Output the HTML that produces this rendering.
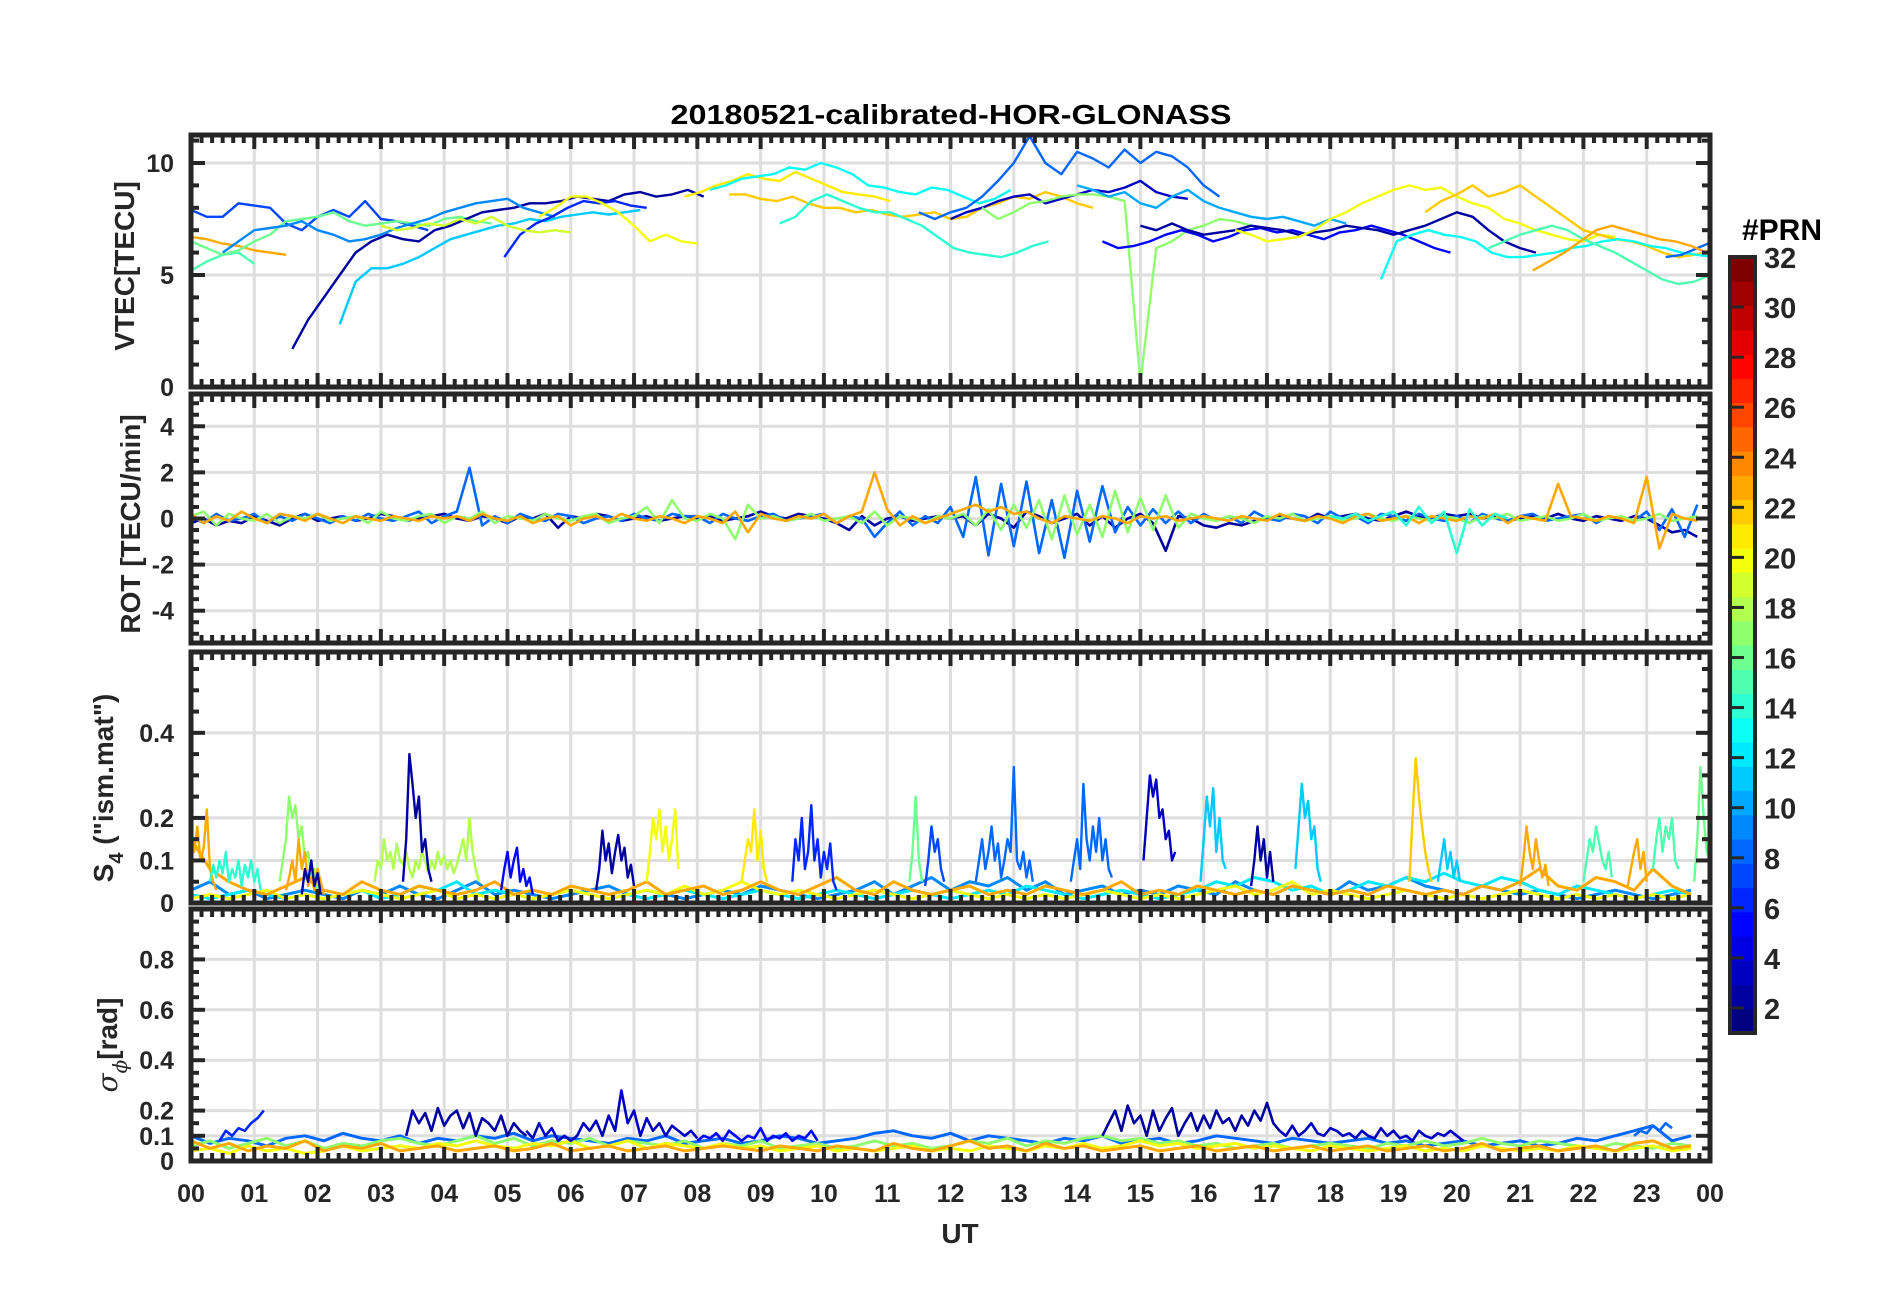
<!DOCTYPE html>
<html><head><meta charset="utf-8"><title>20180521-calibrated-HOR-GLONASS</title>
<style>html,body{margin:0;padding:0;background:#fff}svg{display:block}text{font-family:"Liberation Sans",Arial,sans-serif;font-weight:bold;fill:#262626}</style>
</head><body>
<svg id="fig" width="1902" height="1292" viewBox="0 0 1902 1292" xmlns="http://www.w3.org/2000/svg">
<text x="951" y="124" text-anchor="middle" font-size="28" textLength="561" lengthAdjust="spacingAndGlyphs" style="fill:#000">20180521-calibrated-HOR-GLONASS</text>
<text transform="translate(134,266) rotate(-90)" text-anchor="middle" font-size="28">VTEC[TECU]</text>
<text transform="translate(140,524) rotate(-90)" text-anchor="middle" font-size="28">ROT [TECU/min]</text>
<text transform="translate(113,788) rotate(-90)" text-anchor="middle" font-size="28">S<tspan font-size="20" dy="10">4</tspan><tspan dy="-10"> ("ism.mat")</tspan></text>
<text transform="translate(117,1045) rotate(-90)" text-anchor="middle" font-size="28"><tspan font-family="DejaVu Serif,serif" font-style="italic" font-weight="normal">σ</tspan><tspan font-size="20" dy="10" font-family="DejaVu Serif,serif" font-style="italic" font-weight="normal">ϕ</tspan><tspan dy="-10">[rad]</tspan></text>
<text x="960" y="1243" text-anchor="middle" font-size="28">UT</text>
<text x="1782" y="240" text-anchor="middle" font-size="30" style="fill:#000">#PRN</text>
<g id="grid"></g><g id="data"></g><g id="axes"></g><g id="cbar"></g>
</svg>
<script>
// ---------- data ----------
const hourLabels=["00","01","02","03","04","05","06","07","08","09","10","11","12","13","14","15","16","17","18","19","20","21","22","23","00"];
const cbarLabels=[2,4,6,8,10,12,14,16,18,20,22,24,26,28,30,32];
const vtecTicks=[0,5,10];
const rotTicks=[-4,-2,0,2,4];
const s4Ticks=[0,0.1,0.2,0.4];
const sigTicks=[0,0.1,0.2,0.4,0.6,0.8];
// VTEC: prn, start hour, values (step 0.25 h)
const vtecPrn=[7,23,15,16,2,11,9,6,19,20,21,13,22,14,8,3,17,5,10,2,20,22,13,15,8,23];
const vtecStart=[0,0,0,0,1.6,2.35,0.5,4.95,3.0,5.5,7.8,8.2,8.5,9.3,11.5,12.0,12.5,14.4,14.0,15.0,16.5,19.5,18.8,20.5,23.3,21.2];
const vtecVals=[
[7.9,7.6,7.6,8.2,8.1,8.0,7.3,7.0,7.6,7.9,7.6,8.3,7.5,7.4,7.2,7.0],
[6.7,6.6,6.4,6.3,6.1,6.0,5.9],
[5.2,5.6,5.9,6.0,5.5],
[6.5,6.2,5.9,6.1,6.5,6.8,7.4,7.5,7.6,7.8,7.4,7.2,7.3,7.4,7.3,7.2,7.5,7.6,7.4,7.3],
[1.7,3.0,4.0,5.0,6.0,6.5,6.8,6.6,6.5,7.0,7.2,7.5,7.8,7.9,8.0,8.2,8.2,8.3,8.5,8.4,8.3,8.6,8.7,8.5,8.6,8.8,8.5],
[2.8,4.7,5.3,5.3,5.5,5.8,6.2,6.6,6.8,7.0,7.2,7.3,7.5,7.4,7.6,7.7,7.8,7.7,7.8,7.9],
[6.0,6.5,7.0,7.1,7.2,7.4,7.0,6.8,6.5,6.6,6.8,7.1,7.3,7.5,7.8,8.0,8.2,8.3,8.4,8.0,7.8,7.6],
[5.8,6.8,7.3,7.6,8.0,8.3,8.2,8.3,8.1,8.0],
[7.2,7.0,7.1,7.3,7.2,7.5,7.3,7.6,7.2,7.0,6.9,7.0,6.9],
[7.6,8.0,8.5,8.5,8.2,7.8,7.2,6.5,6.8,6.5,6.4],
[8.5,8.7,9.0,9.2,9.5,9.3,9.2,9.6,9.3,9.0,8.7,8.6,8.5,8.3],
[8.8,9.0,9.3,9.4,9.5,9.8,9.7,10.0,9.8,9.5,9.0,8.9,8.7,8.6,8.9,8.8,8.5,8.2,8.4,8.8],
[8.6,8.6,8.4,8.3,8.5,8.2,8.0,8.0,7.8,7.9,7.7,7.6,7.7,7.8,7.5,7.6,8.0,8.2,8.5,8.4,8.7,8.5,8.2,8.0],
[7.3,7.6,8.3,8.6,8.3,8.0,7.8,7.8,7.5,7.2,6.7,6.2,6.0,5.9,5.8,6.0,6.3,6.5],
[7.8,7.5,7.8,8.0,8.5,9.2,10.0,11.2,10.0,9.5,10.5,10.2,9.8,10.6,10.0,10.5,10.3,9.8,9.0,8.5],
[7.5,7.8,8.0,8.3,8.5,8.6,8.2,8.4,8.6,8.8,8.7,8.9,9.2,8.7,8.5,8.4],
[8.0,7.5,7.8,8.2,8.3,8.5,8.6,8.6,8.5,8.3,0.2,6.2,6.5,7.0,7.2,7.5,7.4,7.2],
[6.5,6.2,6.3,6.5,6.8,7.0,6.8,6.5,6.7,7.0,7.1,6.9,7.0,6.8,6.6,6.9,7.0,7.2,7.0,6.8,6.5,6.2,6.0],
[9.0,8.8,8.5,8.7,8.2,8.0,8.5,8.8,8.3,8.0,7.8,7.6,7.5,7.6,7.4,7.2,7.5,7.3],
[7.2,7.0,7.3,7.0,6.8,6.9,7.0,7.2,7.1,7.0,6.8,6.9,7.0,7.2,7.1,7.0,6.8,7.0,7.2,7.5,7.8,7.6,7.0,6.5,6.2,6.0],
[7.0,6.8,6.5,6.6,6.7,7.0,7.5,7.8,8.2,8.5,8.8,9.0,8.8,8.9,8.5,8.2,8.0,7.5,7.3,7.0,6.8,6.6,6.5,6.8,6.7],
[7.8,8.3,8.6,9.0,8.5,8.7,9.0,8.5,8.0,7.5,7.0,6.8,6.6,6.5,6.3,6.0,5.8,5.9,6.1],
[4.8,6.5,6.8,7.0,6.8,6.7,6.5,6.0,5.8,5.8,5.9,6.0,6.2,6.3,6.5,6.6,6.5,6.3,6.2,6.0,5.9,5.8],
[6.2,6.5,6.8,7.0,7.2,7.0,6.6,6.3,6.0,5.6,5.2,4.8,4.6,4.7,5.0,5.3,5.6,5.8],
[5.8,5.9,6.2,6.5,6.0,6.4,6.6],
[5.2,5.6,6.0,6.5,7.0,7.2,7.0,6.8,6.6,6.5,6.3,6.0,5.8]
];
// ROT: prn, start, values (step 0.2 h)
const rotPrn=[2,8,17,23,14];
const rotStart=[0,0,0,0,18];
const rotVals=[
[-0.2,0.0,-0.3,-0.1,-0.2,0.1,-0.1,-0.3,0.0,0.2,-0.1,0.0,0.1,-0.1,0.0,0.2,0.1,-0.1,0.0,0.1,0.2,0.0,-0.1,0.1,0.0,-0.2,0.1,0.0,0.2,-0.4,0.1,0.0,0.2,0.1,-0.1,0.0,0.1,-0.1,0.0,0.1,0.0,0.1,-0.1,0.0,0.1,0.3,0.1,0.0,0.2,0.1,0.0,-0.2,-0.5,0.1,-0.3,0.0,0.1,-0.1,0.0,0.1,0.0,0.1,-0.3,0.2,0.0,-0.4,0.3,0.1,-0.2,0.0,0.2,-0.3,0.1,-0.4,0.0,0.2,-0.2,-1.4,0.1,0.0,-0.3,-0.4,-0.2,-0.3,-0.1,0.0,0.1,0.0,-0.1,0.2,0.0,0.1,0.2,0.0,-0.1,0.1,0.3,0.1,0.0,0.2,0.1,0.2,0.0,0.1,-0.1,0.0,0.1,0.0,0.2,0.0,-0.1,0.1,0.0,-0.1,0.1,0.0,-0.3,-0.6,-0.5,-0.8],
[0.1,-0.2,0.2,-0.1,0.0,0.2,-0.2,0.1,-0.1,0.2,0.0,-0.2,0.1,-0.1,0.2,0.0,-0.1,0.1,0.3,-0.2,0.1,0.3,2.2,-0.3,0.1,-0.2,0.2,0.0,-0.1,0.2,0.1,-0.2,0.0,0.1,-0.1,0.2,0.0,-0.1,0.2,0.1,0.1,-0.2,0.2,0.0,-0.1,0.1,0.2,-0.1,0.0,0.1,0.2,-0.2,0.1,0.0,-0.8,-0.2,0.3,-0.3,0.1,-0.2,0.5,-0.8,1.8,-1.6,1.5,-1.2,1.6,-1.5,0.8,-1.7,1.2,-1.0,1.4,-0.6,0.5,-0.3,0.4,-0.2,0.3,-0.2,0.2,-0.1,0.1,-0.2,0.3,0.0,-0.1,0.2,0.1,-0.2,0.3,0.0,0.1,-0.2,0.2,0.1,-0.1,0.2,0.0,-0.1,0.1,-0.2,0.2,0.0,-0.1,0.1,0.2,-0.1,0.0,0.1,0.2,-0.2,0.1,0.0,-0.1,0.3,-0.5,0.4,-0.8,0.6],
[0.1,0.3,-0.3,0.2,0.0,-0.1,0.2,-0.2,0.1,0.0,0.2,-0.1,0.0,0.1,-0.2,0.3,0.0,-0.1,0.1,0.2,-0.2,0.1,0.0,0.3,-0.2,0.1,0.0,-0.1,0.2,0.0,-0.1,0.1,0.2,-0.2,0.0,0.1,0.5,-0.2,0.8,0.0,-0.1,0.2,0.0,-0.9,0.6,0.0,0.1,-0.1,0.0,0.2,-0.1,0.0,0.1,-0.2,0.3,-0.3,0.1,0.0,-0.2,0.1,0.0,0.2,-0.3,0.4,-0.5,0.6,-0.4,0.8,-0.9,1.0,-0.7,0.6,-0.8,1.2,-0.6,0.9,-0.5,1.0,-0.4,0.2,0.0,-0.1,0.1,0.0,-0.2,0.1,0.0,0.2,-0.1,0.0,0.1,-0.1,0.0,0.2,0.0,-0.1,0.1,0.0,-0.1,0.1,0.0,-0.2,0.1,0.0,0.2,-0.1,0.0,0.1,-0.1,0.0,0.2,-0.1,0.0,0.1,-0.1,0.0,0.2,-0.1,0.0,0.1],
[0.2,-0.2,0.1,-0.1,0.3,0.0,-0.2,0.2,0.1,-0.1,0.2,0.0,-0.2,0.1,0.0,-0.1,0.1,0.0,-0.1,0.1,0.0,0.1,-0.1,0.2,0.0,-0.1,0.1,-0.2,0.0,0.1,-0.3,0.0,0.1,-0.1,0.2,0.0,-0.1,0.1,0.0,-0.2,0.1,0.0,-0.2,0.3,-0.6,0.2,0.0,-0.1,0.1,0.0,0.2,-0.2,0.1,0.3,2.0,0.4,-0.3,0.1,-0.2,0.0,0.2,0.4,0.6,0.3,0.5,0.2,0.3,0.0,-0.2,0.1,0.0,-0.1,0.1,0.0,-0.2,0.1,0.0,0.1,-0.1,0.0,0.1,0.0,-0.1,0.1,0.0,-0.1,0.2,0.0,-0.1,0.1,0.0,-0.2,0.1,0.2,-0.1,0.0,0.1,-0.2,0.1,0.0,-0.1,0.1,0.0,0.2,-0.2,0.1,0.0,-0.1,1.5,0.1,0.0,-0.1,0.1,0.0,-0.2,1.8,-1.3,0.2,0.0,-0.1],
[0.1,0.0,0.2,-0.1,0.1,0.3,-0.3,0.5,-0.2,0.3,-1.5,0.4,-0.3,0.2,0.0]
];
// S4 background traces (step 0.3 h)
const s4BasePrn=[9,12,20,23];
const s4BaseVals=[
[0.03,0.05,0.02,0.03,0.01,0.02,0.03,0.02,0.01,0.03,0.02,0.04,0.02,0.01,0.03,0.05,0.02,0.03,0.02,0.01,0.02,0.03,0.04,0.02,0.03,0.02,0.01,0.02,0.03,0.02,0.04,0.03,0.02,0.01,0.02,0.03,0.05,0.02,0.04,0.06,0.03,0.05,0.04,0.06,0.03,0.05,0.02,0.03,0.04,0.02,0.03,0.02,0.04,0.03,0.02,0.05,0.03,0.02,0.04,0.03,0.02,0.05,0.03,0.04,0.06,0.04,0.03,0.02,0.04,0.03,0.02,0.03,0.02,0.01,0.02,0.03,0.02,0.01,0.02,0.03],
[0.02,0.01,0.02,0.03,0.02,0.01,0.02,0.01,0.02,0.03,0.01,0.02,0.04,0.03,0.05,0.02,0.03,0.02,0.01,0.02,0.03,0.02,0.01,0.02,0.01,0.02,0.03,0.02,0.01,0.02,0.03,0.02,0.01,0.02,0.03,0.02,0.01,0.02,0.03,0.02,0.01,0.02,0.03,0.02,0.04,0.03,0.02,0.01,0.02,0.03,0.02,0.01,0.02,0.03,0.05,0.04,0.06,0.05,0.03,0.04,0.02,0.03,0.05,0.04,0.06,0.05,0.07,0.05,0.04,0.06,0.05,0.03,0.02,0.04,0.03,0.02,0.01,0.02,0.03,0.02],
[0.01,0.02,0.01,0.02,0.03,0.01,0.02,0.01,0.02,0.03,0.02,0.01,0.02,0.03,0.01,0.02,0.01,0.02,0.01,0.02,0.03,0.02,0.01,0.02,0.03,0.02,0.04,0.02,0.03,0.05,0.03,0.02,0.03,0.02,0.01,0.02,0.03,0.02,0.01,0.02,0.03,0.02,0.01,0.02,0.01,0.02,0.01,0.02,0.03,0.02,0.01,0.02,0.01,0.02,0.03,0.04,0.02,0.03,0.05,0.02,0.03,0.02,0.01,0.02,0.03,0.02,0.01,0.02,0.01,0.02,0.03,0.02,0.01,0.02,0.01,0.02,0.01,0.02,0.01,0.02],
[0.15,0.08,0.05,0.03,0.02,0.04,0.06,0.03,0.02,0.05,0.03,0.02,0.04,0.03,0.02,0.03,0.05,0.02,0.03,0.02,0.04,0.03,0.02,0.03,0.05,0.02,0.03,0.04,0.02,0.03,0.05,0.03,0.02,0.04,0.06,0.03,0.02,0.05,0.03,0.02,0.03,0.04,0.02,0.03,0.02,0.04,0.03,0.02,0.03,0.05,0.02,0.03,0.02,0.04,0.03,0.02,0.03,0.02,0.04,0.03,0.02,0.03,0.02,0.04,0.03,0.02,0.03,0.02,0.04,0.03,0.05,0.08,0.04,0.03,0.06,0.05,0.03,0.08,0.04,0.02]
];
// S4 bursts: prn, start, values (step 0.05 h)
const s4BurstPrn=[23,14,17,23,2,18,2,5,2,20,21,6,16,7,8,8,3,11,2,11,22,11,23,15,23,15,16];
const s4BurstStart=[0.0,0.3,1.4,1.5,1.75,2.9,3.35,4.9,6.4,7.2,8.7,9.5,11.35,11.6,12.4,13.9,15.05,15.95,16.75,17.45,19.25,19.7,21.0,22.0,22.7,23.1,23.75];
const s4BurstVals=[
[0.15,0.12,0.18,0.1,0.13,0.22,0.08,0.05,0.03],
[0.05,0.09,0.06,0.1,0.07,0.12,0.05,0.08,0.06,0.1,0.04,0.09,0.06,0.1,0.05,0.08,0.03],
[0.05,0.1,0.15,0.25,0.2,0.23,0.15,0.18,0.1,0.12,0.06,0.08,0.03],
[0.03,0.06,0.1,0.05,0.15,0.08,0.12,0.04,0.06,0.03,0.08,0.05,0.02],
[0.02,0.08,0.05,0.1,0.04,0.07,0.02],
[0.05,0.1,0.08,0.15,0.1,0.12,0.08,0.14,0.1,0.09,0.12,0.08,0.06,0.1,0.08,0.12,0.1,0.07,0.1,0.08,0.12,0.09,0.11,0.08,0.1,0.07,0.09,0.12,0.15,0.1,0.2,0.12,0.08,0.05],
[0.05,0.15,0.35,0.28,0.2,0.25,0.12,0.15,0.08,0.05],
[0.03,0.08,0.12,0.06,0.1,0.13,0.05,0.08,0.04,0.06,0.02],
[0.03,0.08,0.17,0.1,0.14,0.07,0.12,0.16,0.1,0.13,0.06,0.09,0.04],
[0.05,0.12,0.2,0.15,0.22,0.12,0.18,0.1,0.15,0.22,0.08],
[0.05,0.1,0.15,0.12,0.22,0.1,0.17,0.08,0.05],
[0.05,0.15,0.1,0.2,0.08,0.12,0.23,0.1,0.15,0.06,0.12,0.08,0.14,0.05,0.03],
[0.05,0.12,0.25,0.1,0.05],
[0.04,0.1,0.18,0.12,0.15,0.08,0.05],
[0.05,0.1,0.15,0.08,0.12,0.18,0.1,0.14,0.06,0.1,0.15,0.12,0.32,0.1,0.08,0.12,0.06,0.1,0.05],
[0.05,0.1,0.15,0.08,0.28,0.15,0.1,0.18,0.12,0.2,0.1,0.15,0.08,0.06],
[0.1,0.2,0.3,0.25,0.29,0.2,0.22,0.15,0.17,0.1,0.12],
[0.05,0.15,0.25,0.18,0.27,0.12,0.2,0.1,0.08],
[0.04,0.1,0.18,0.1,0.15,0.06,0.12,0.05],
[0.08,0.18,0.28,0.2,0.24,0.15,0.18,0.08,0.05],
[0.05,0.2,0.34,0.25,0.18,0.12,0.08,0.05],
[0.05,0.1,0.15,0.08,0.12,0.06,0.1,0.05],
[0.04,0.1,0.18,0.12,0.08,0.15,0.1,0.06,0.09,0.04],
[0.05,0.1,0.15,0.12,0.18,0.14,0.1,0.08,0.12,0.06],
[0.04,0.08,0.12,0.15,0.08,0.12,0.05],
[0.08,0.15,0.2,0.12,0.18,0.15,0.2,0.1,0.08],
[0.05,0.15,0.32,0.2,0.12,0.1]
];
// Sigma-phi background (step 0.3 h)
const sigBasePrn=[8,17,20,23];
const sigBaseVals=[
[0.1,0.07,0.09,0.08,0.06,0.09,0.1,0.08,0.11,0.09,0.08,0.1,0.07,0.09,0.08,0.1,0.09,0.11,0.08,0.1,0.09,0.08,0.07,0.09,0.08,0.1,0.07,0.08,0.09,0.07,0.08,0.1,0.09,0.07,0.08,0.09,0.11,0.12,0.1,0.09,0.11,0.08,0.1,0.09,0.08,0.07,0.09,0.08,0.1,0.07,0.08,0.09,0.07,0.08,0.1,0.09,0.08,0.07,0.09,0.08,0.07,0.08,0.09,0.07,0.08,0.06,0.07,0.08,0.06,0.07,0.08,0.06,0.07,0.09,0.08,0.1,0.12,0.14,0.08,0.1],
[0.06,0.08,0.05,0.07,0.09,0.06,0.08,0.05,0.07,0.06,0.08,0.09,0.07,0.06,0.08,0.1,0.07,0.09,0.06,0.08,0.07,0.09,0.06,0.08,0.07,0.06,0.08,0.05,0.07,0.06,0.08,0.05,0.06,0.07,0.05,0.06,0.08,0.06,0.07,0.05,0.06,0.08,0.07,0.09,0.06,0.08,0.07,0.09,0.1,0.08,0.09,0.07,0.08,0.06,0.07,0.05,0.06,0.07,0.05,0.06,0.07,0.06,0.05,0.07,0.06,0.08,0.06,0.07,0.09,0.07,0.06,0.08,0.07,0.06,0.05,0.07,0.06,0.05,0.07,0.06],
[0.04,0.05,0.03,0.06,0.04,0.05,0.03,0.04,0.06,0.04,0.05,0.06,0.05,0.07,0.06,0.08,0.06,0.05,0.07,0.06,0.08,0.05,0.06,0.08,0.05,0.07,0.06,0.05,0.07,0.05,0.06,0.04,0.05,0.06,0.04,0.05,0.04,0.05,0.06,0.04,0.05,0.04,0.06,0.05,0.04,0.06,0.05,0.07,0.05,0.06,0.08,0.06,0.07,0.05,0.06,0.07,0.05,0.06,0.05,0.04,0.06,0.05,0.04,0.05,0.06,0.04,0.05,0.04,0.06,0.05,0.04,0.05,0.04,0.06,0.05,0.04,0.05,0.06,0.04,0.05],
[0.08,0.05,0.07,0.04,0.06,0.05,0.08,0.04,0.06,0.05,0.07,0.04,0.05,0.06,0.04,0.05,0.06,0.04,0.05,0.07,0.04,0.05,0.06,0.04,0.05,0.06,0.04,0.05,0.06,0.05,0.04,0.06,0.05,0.04,0.06,0.05,0.04,0.07,0.05,0.04,0.06,0.08,0.05,0.06,0.04,0.07,0.05,0.06,0.04,0.05,0.06,0.04,0.05,0.06,0.04,0.05,0.06,0.04,0.05,0.06,0.04,0.05,0.06,0.04,0.05,0.06,0.04,0.05,0.07,0.04,0.05,0.06,0.04,0.05,0.06,0.04,0.07,0.08,0.05,0.06]
];
// Sigma-phi segments: prn, start, values (step 0.1 h)
const sigSegPrn=[6,2,3,5,2,3,8];
const sigSegStart=[0.45,3.4,5.3,8.0,14.4,17.2,22.8];
const sigSegVals=[
[0.08,0.12,0.1,0.13,0.12,0.15,0.17,0.2],
[0.1,0.2,0.15,0.19,0.12,0.21,0.14,0.18,0.2,0.13,0.19,0.1,0.17,0.15,0.12,0.18,0.1,0.15,0.12,0.1],
[0.12,0.09,0.15,0.1,0.13,0.08,0.1,0.08,0.1,0.15,0.12,0.16,0.1,0.18,0.12,0.28,0.15,0.2,0.1,0.17,0.12,0.15,0.1,0.14,0.12,0.1,0.12,0.09],
[0.08,0.1,0.09,0.11,0.08,0.12,0.1,0.08,0.1,0.09,0.13,0.08,0.1,0.09,0.11,0.08,0.1,0.09,0.12,0.08],
[0.1,0.15,0.2,0.12,0.22,0.15,0.18,0.1,0.2,0.12,0.17,0.21,0.1,0.15,0.19,0.12,0.18,0.13,0.2,0.15,0.17,0.12,0.18,0.14,0.2,0.16,0.23,0.15,0.12],
[0.12,0.1,0.14,0.1,0.12,0.15,0.11,0.1,0.13,0.12,0.1,0.11,0.09,0.12,0.1,0.09,0.13,0.1,0.12,0.09,0.1,0.08,0.12,0.1,0.09,0.11,0.1,0.12,0.1,0.08],
[0.1,0.12,0.11,0.14,0.12,0.15,0.13]
];

// ---------- layout ----------
const NS="http://www.w3.org/2000/svg";
const X0=191,X1=1710;
const panels=[
 {key:"vtec",top:135,bot:387,min:0,max:11.25,ticks:vtecTicks,minor:1},
 {key:"rot",top:394,bot:643,min:-5.4,max:5.4,ticks:rotTicks,minor:0.5},
 {key:"s4",top:652,bot:903,min:0,max:0.59,ticks:s4Ticks,minor:0.05},
 {key:"sigma",top:909,bot:1161,min:0,max:1.0,ticks:sigTicks,minor:0.05}
];
function xs(h){return X0+(h/24)*(X1-X0);}
function ys(p,v){return p.bot-(v-p.min)/(p.max-p.min)*(p.bot-p.top);}
function jet(k){const t=(k-1)/31;const c=v=>Math.round(255*Math.max(0,Math.min(1,v)));
 return "rgb("+c(1.5-Math.abs(4*t-3))+","+c(1.5-Math.abs(4*t-2))+","+c(1.5-Math.abs(4*t-1))+")";}
function mk(tag,attrs,parent){const e=document.createElementNS(NS,tag);for(const k in attrs)e.setAttribute(k,attrs[k]);parent.appendChild(e);return e;}

const svg=document.getElementById("fig");
const gGrid=document.getElementById("grid"),gData=document.getElementById("data"),gAxes=document.getElementById("axes"),gC=document.getElementById("cbar");
const defs=mk("defs",{},svg);
panels.forEach((p,i)=>{
 const cp=mk("clipPath",{id:"clip"+i},defs);
 mk("rect",{x:X0,y:p.top,width:X1-X0,height:p.bot-p.top},cp);
 for(let h=1;h<24;h++){
  const l=mk("line",{x1:xs(h),x2:xs(h),y1:p.top,y2:p.bot,stroke:"#dedede","stroke-width":3},gGrid);
  
  
 }
 p.ticks.forEach(v=>{
  const l=mk("line",{x1:X0,x2:X1,y1:ys(p,v),y2:ys(p,v),stroke:"#dedede","stroke-width":3},gGrid);
  
  
 });
});

function drawSeries(pi,prn,start,step,vals,w,name){
 const p=panels[pi];
 const pts=vals.map((v,j)=>xs(start+j*step).toFixed(1)+","+ys(p,v).toFixed(1)).join(" ");
 const pl=mk("polyline",{points:pts,fill:"none",stroke:jet(prn),"stroke-width":w,"stroke-linejoin":"round","clip-path":"url(#clip"+pi+")"},gData);
 
 
}
vtecVals.forEach((v,i)=>drawSeries(0,vtecPrn[i],vtecStart[i],0.25,v,2.4,"vtec-line"));
rotVals.forEach((v,i)=>drawSeries(1,rotPrn[i],rotStart[i],0.2,v,2.6,"rot-line"));
s4BaseVals.forEach((v,i)=>drawSeries(2,s4BasePrn[i],0,0.3,v,3,"s4-line"));
s4BurstVals.forEach((v,i)=>drawSeries(2,s4BurstPrn[i],s4BurstStart[i],0.05,v,2.4,"s4-burst"));
sigBaseVals.forEach((v,i)=>drawSeries(3,sigBasePrn[i],0,0.3,v,3,"sigma-line"));
sigSegVals.forEach((v,i)=>drawSeries(3,sigSegPrn[i],sigSegStart[i],0.1,v,2.6,"sigma-segment"));

// axes, ticks
const AX="#262626";
panels.forEach((p,i)=>{
 for(let m=0;m<=144;m++){
  const h=m/6,x=xs(h),len=(m%6===0)?14:8;
  const t1=mk("line",{x1:x,x2:x,y1:p.top,y2:p.top+len,stroke:AX,"stroke-width":4},gAxes);
  
  
  const t2=mk("line",{x1:x,x2:x,y1:p.bot,y2:p.bot-len,stroke:AX,"stroke-width":4},gAxes);
  
  
 }
 const startV=Math.ceil(p.min/p.minor)*p.minor;
 for(let v=startV;v<=p.max+1e-9;v+=p.minor){
  const vv=Math.round(v*1000)/1000;
  const major=p.ticks.some(t=>Math.abs(t-vv)<1e-6);
  const len=major?14:8,y=ys(p,vv);
  const a=mk("line",{x1:X0,x2:X0+len,y1:y,y2:y,stroke:AX,"stroke-width":4},gAxes);
  
  
  const b=mk("line",{x1:X1,x2:X1-len,y1:y,y2:y,stroke:AX,"stroke-width":4},gAxes);
  
  
 }
 p.ticks.forEach(v=>{
  const t=mk("text",{x:174,y:ys(p,v)+9,"text-anchor":"end","font-size":25},gAxes);
  t.textContent=String(v);
  
  
 });
 const r=mk("rect",{x:X0,y:p.top,width:X1-X0,height:p.bot-p.top,fill:"none",stroke:AX,"stroke-width":5},gAxes);
 
 
});
hourLabels.forEach((s,i)=>{
 const t=mk("text",{x:xs(i),y:1202,"text-anchor":"middle","font-size":25},gAxes);
 t.textContent=s;
 
 
});

// colorbar
const CB={x:1730,w:25,top:257,bot:1033,min:1,max:32};
const bandH=(CB.bot-CB.top)/32;
for(let k=1;k<=32;k++){
 const r=mk("rect",{x:CB.x,y:CB.bot-k*bandH,width:CB.w,height:bandH+0.6,fill:jet(k)},gC);
 
 
}
function cy(v){return CB.bot-(v-CB.min)/(CB.max-CB.min)*(CB.bot-CB.top);}
cbarLabels.forEach(v=>{
 const y=cy(v);
 if(v<32){
  const l=mk("line",{x1:CB.x,x2:CB.x+14,y1:y,y2:y,stroke:AX,"stroke-width":3},gC);
  
  
 }
 const t=mk("text",{x:1764,y:y+11,"font-size":29},gC);
 t.textContent=String(v);
 
 
});
const cf=mk("rect",{x:CB.x,y:CB.top,width:CB.w,height:CB.bot-CB.top,fill:"none",stroke:AX,"stroke-width":4},gC);


</script>
</body></html>
